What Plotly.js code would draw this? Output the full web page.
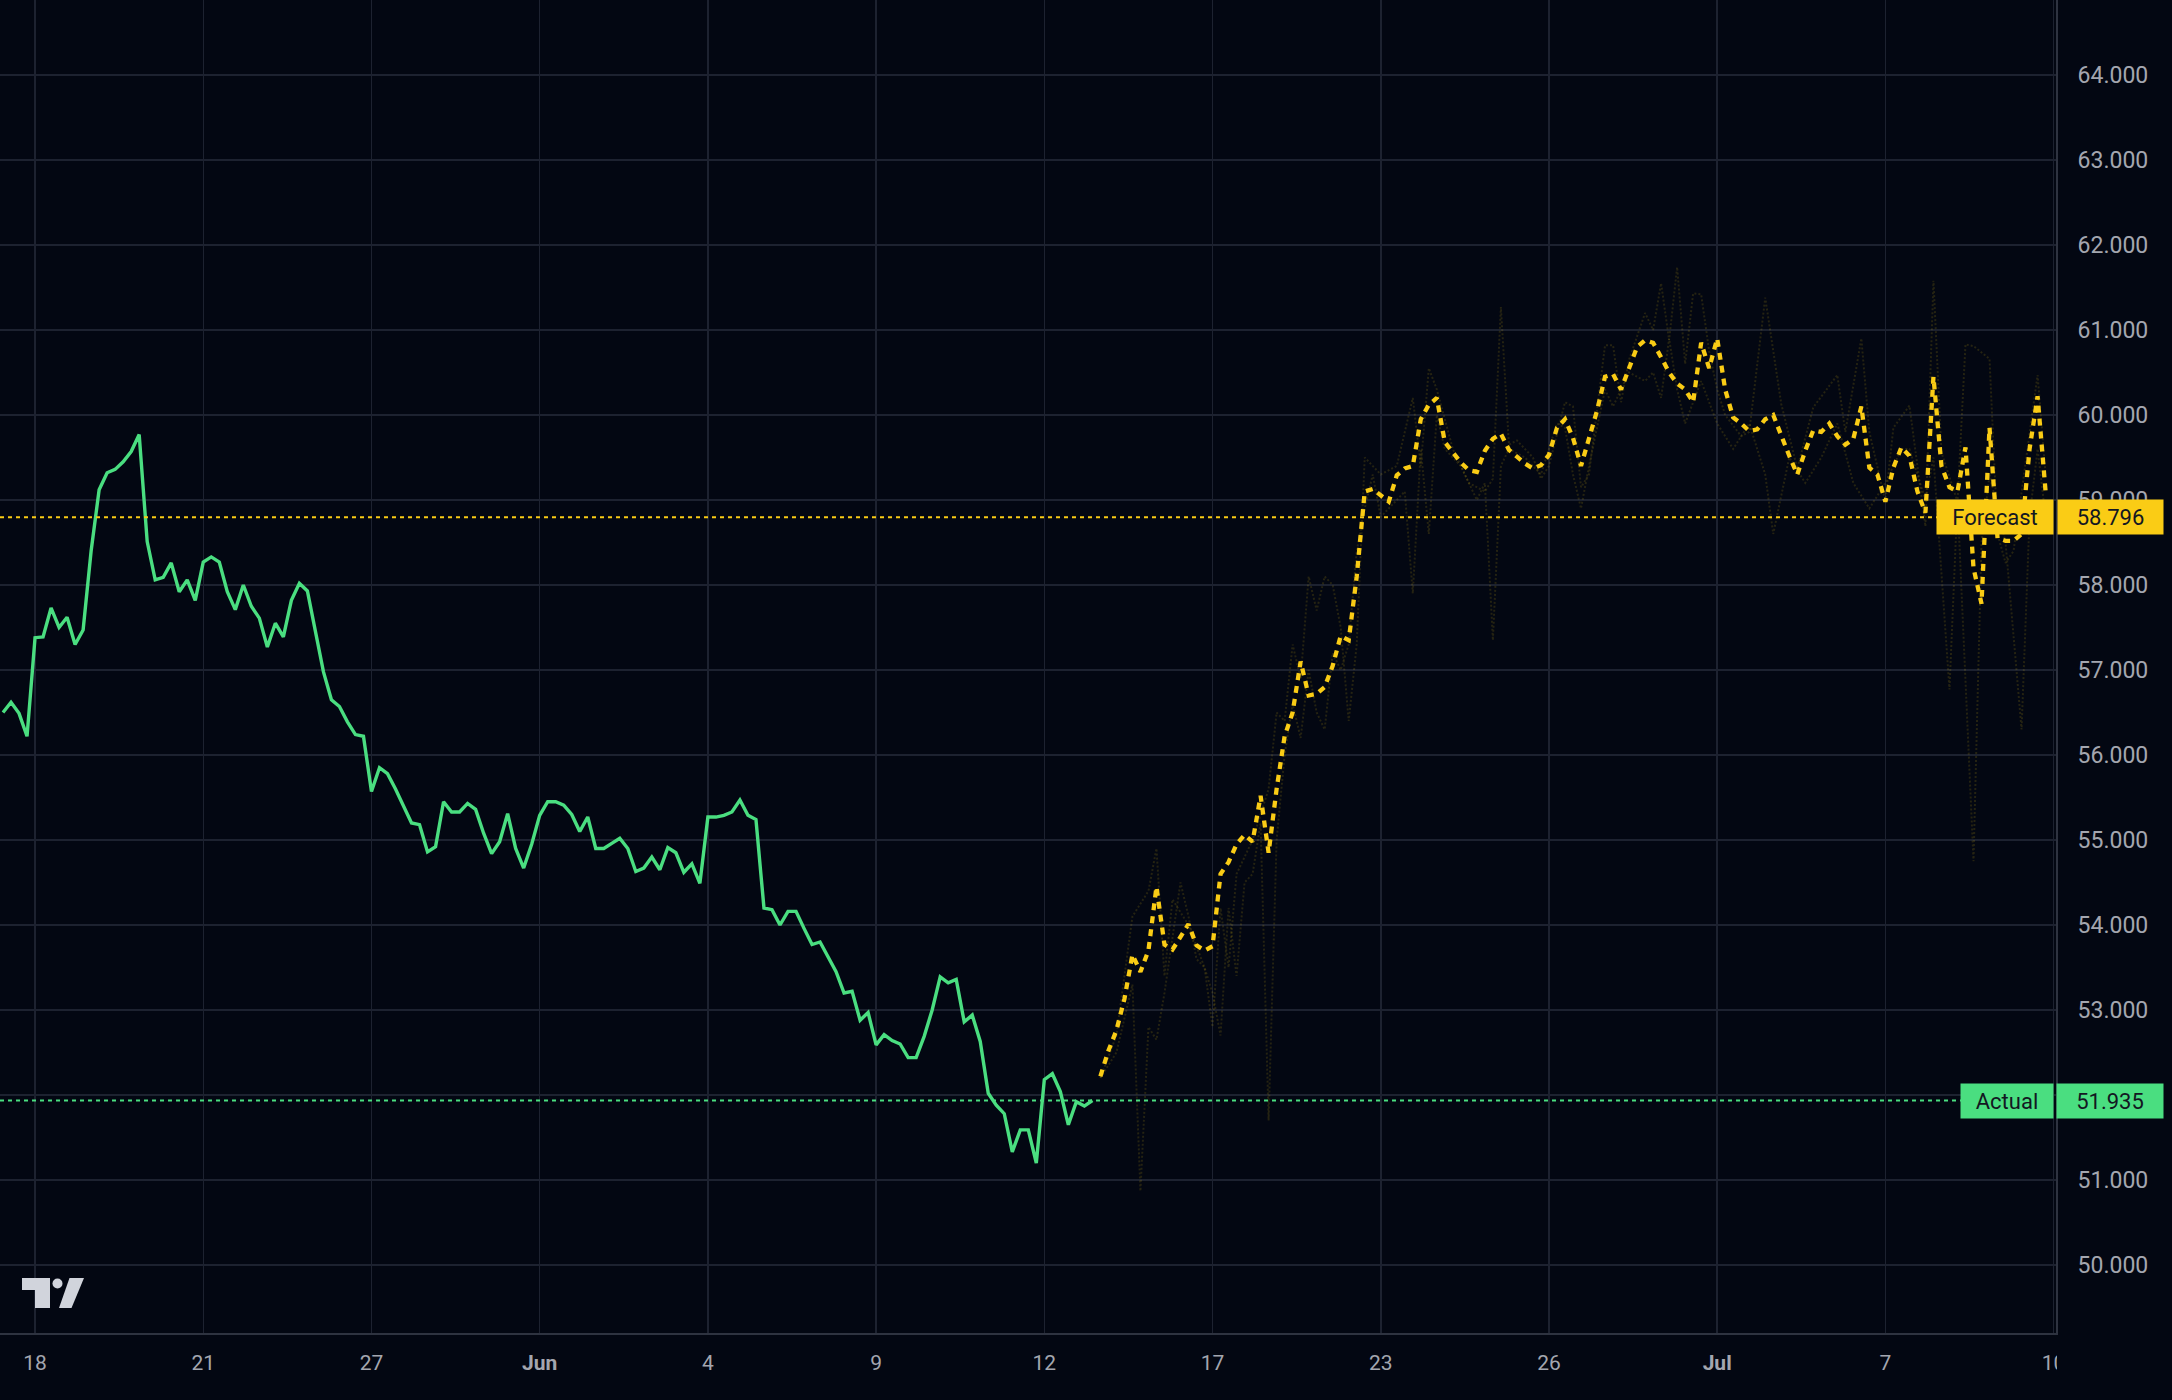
<!DOCTYPE html>
<html>
<head>
<meta charset="utf-8">
<script src="https://cdn.plot.ly/plotly-3.0.1.min.js"></script>
<style>
  html, body { margin: 0; padding: 0; background: #030712; }
  #chart { width: 2172px; height: 1400px; }
</style>
</head>
<body>
<div id="chart"></div>
<script>
// ---------- DATA ----------
// Bar index axis: one point per bar; ticks fall every 21 bars.
const tickLabels = ["18", "21", "27", "<b>Jun</b>", "4", "9", "12", "17", "23", "26", "<b>Jul</b>", "7", "10"];

// Actual price (green), bars 0..136
const actualValues = [
  56.50, 56.62, 56.49, 56.22, 57.38, 57.39, 57.73, 57.50, 57.62, 57.30,
  57.47, 58.40, 59.12, 59.32, 59.36, 59.45, 59.57, 59.77, 58.51, 58.06,
  58.09, 58.26, 57.92, 58.06, 57.82, 58.27, 58.33, 58.27, 57.92, 57.71,
  58.00, 57.75, 57.61, 57.27, 57.55, 57.39, 57.82, 58.02, 57.93, 57.43,
  56.98, 56.65, 56.57, 56.39, 56.24, 56.22, 55.57, 55.85, 55.78, 55.60,
  55.40, 55.20, 55.18, 54.86, 54.92, 55.45, 55.33, 55.33, 55.43, 55.36,
  55.08, 54.84, 54.98, 55.31, 54.90, 54.67, 54.95, 55.29, 55.45, 55.45,
  55.41, 55.30, 55.10, 55.27, 54.90, 54.90, 54.96, 55.02, 54.90, 54.63,
  54.67, 54.80, 54.65, 54.91, 54.85, 54.62, 54.72, 54.49, 55.27, 55.27,
  55.29, 55.33, 55.47, 55.29, 55.24, 54.20, 54.18, 54.00, 54.16, 54.16,
  53.96, 53.77, 53.80, 53.63, 53.45, 53.20, 53.22, 52.88, 52.97, 52.59,
  52.71, 52.64, 52.60, 52.44, 52.44, 52.69, 53.00, 53.39, 53.32, 53.36,
  52.86, 52.94, 52.63, 52.02, 51.88, 51.78, 51.33, 51.59, 51.59, 51.20,
  52.18, 52.25, 52.04, 51.65, 51.92, 51.87, 51.935
];

// Forecast (yellow dashed), bars 137..255
const forecastStart = 137;
const forecastValues = [
  52.22, 52.52, 52.76, 53.13, 53.65, 53.45, 53.70, 54.45, 53.77, 53.71,
  53.86, 54.01, 53.76, 53.70, 53.75, 54.60, 54.74, 54.95, 55.06, 54.98,
  55.52, 54.85, 55.60, 56.22, 56.50, 57.10, 56.70, 56.72, 56.80, 57.05,
  57.40, 57.35, 58.10, 59.10, 59.13, 59.05, 58.98, 59.29, 59.37, 59.40,
  59.95, 60.12, 60.20, 59.68, 59.55, 59.44, 59.35, 59.33, 59.58, 59.72,
  59.78, 59.59, 59.51, 59.43, 59.37, 59.41, 59.53, 59.85, 59.95, 59.73,
  59.40, 59.72, 60.05, 60.45, 60.48, 60.30, 60.55, 60.80, 60.88, 60.85,
  60.68, 60.50, 60.37, 60.30, 60.15, 60.85, 60.55, 60.90, 60.30, 59.97,
  59.90, 59.81, 59.83, 59.95, 60.00, 59.75, 59.52, 59.30, 59.58, 59.82,
  59.80, 59.90, 59.75, 59.65, 59.72, 60.10, 59.38, 59.30, 58.98, 59.38,
  59.62, 59.52, 59.10, 58.85, 60.45, 59.40, 59.15, 59.10, 59.62, 58.20,
  57.78, 59.85, 58.55, 58.52, 58.52, 58.60, 59.60, 60.22, 59.10
];

// Faint forecast sample paths (dim dotted)
const faintAIdx = [137,139,141,143,144,145,146,148,150,151,152,153,154,156,158,159,160,161,162,163,164,165,166,167,168,169,170,172,174,176,177,178,179,181,183,185,186,187,188,189,191,192,193,195,196,197,198,200,201,202,203,205,206,207,208,209,210,211,212,213,214,215,217,218,220,222,224,226,229,230,232,233,235,236,238,240,241,242,244,245,246,248,249,250,251,253,254,255];
const faintAValues = [52.2,52.7,54.1,54.4,54.9,53.4,54.3,54.0,53.5,52.8,54.2,53.5,54.6,55.0,55.6,56.5,56.4,57.3,56.9,58.1,57.7,58.1,58.0,57.5,56.4,57.3,59.5,59.3,59.4,60.2,59.4,60.55,60.3,59.6,59.2,59.1,59.25,61.27,59.65,59.7,59.5,59.25,59.4,60.15,60.1,59.15,59.3,60.82,60.82,60.15,60.65,61.2,61.0,61.55,60.88,61.74,60.6,61.43,61.42,60.75,60.3,60.0,59.75,59.8,61.38,60.13,59.37,60.09,60.47,59.8,60.9,59.8,58.98,59.85,60.11,58.69,61.58,59.56,58.98,60.83,60.81,60.66,58.6,58.26,58.4,59.8,60.47,59.3];
const faintBIdx = [137,139,141,142,143,144,145,147,148,149,150,151,152,153,154,155,156,157,158,159,160,161,162,163,164,165,166,167,168,169,170,171,172,175,176,177,178,179,180,182,184,185,186,187,188,190,192,194,195,196,197,198,200,201,203,205,206,207,208,209,210,212,214,216,218,220,221,223,225,227,229,231,233,235,237,238,240,241,243,244,246,247,248,249,250,252,253,254,255];
const faintBValues = [52.2,52.5,53.3,50.87,52.8,52.65,53.2,54.5,54.1,53.6,53.5,53.2,52.7,54.2,53.4,54.5,54.6,55.2,51.7,55.0,56.0,56.6,56.2,57.0,56.5,56.3,57.2,57.0,57.3,58.4,58.9,59.3,58.8,59.1,57.9,59.6,58.6,60.0,59.6,59.4,59.0,59.2,57.35,59.4,59.6,59.5,59.3,59.9,59.85,59.3,58.9,59.4,60.3,60.1,60.5,60.4,60.5,60.2,60.9,60.3,59.9,60.4,59.9,59.6,59.9,59.3,58.6,59.5,59.2,59.5,59.9,59.2,58.9,59.2,59.6,59.6,59.0,59.5,56.77,59.0,54.75,58.5,59.3,58.9,58.5,56.3,58.8,59.6,58.8];

const forecastLevel = 58.796;
const actualLevel = 51.935;
const forecastLabel = "Forecast";
const actualLabel = "Actual";

// ---------- STYLE ----------
const BG = "#030712";
const GRID = "#1d2230";
const AXIS = "#2e3340";
const GREEN = "#4ade80";
const YELLOW = "#facc15";
const FAINT = "rgba(250,204,21,0.14)";
const TXT = "#a3a6af";
const FONT = "Roboto, 'Noto Sans', sans-serif";

const W = 2172, H = 1400, ML = 0, MR = 116, MT = 0, MB = 67;
const PW = W - ML - MR, PH = H - MT - MB;

const actualIdx = actualValues.map((_, i) => i);
const forecastIdx = forecastValues.map((_, i) => forecastStart + i);
const tickIdx = tickLabels.map((_, k) => 4 + 21 * k);

const traces = [
  { x: faintAIdx, y: faintAValues, type: "scatter", mode: "lines",
    line: { color: FAINT, width: 2, dash: "2px,2px" }, hoverinfo: "skip" },
  { x: faintBIdx, y: faintBValues, type: "scatter", mode: "lines",
    line: { color: FAINT, width: 2, dash: "2px,2px" }, hoverinfo: "skip" },
  { x: actualIdx, y: actualValues, type: "scatter", mode: "lines",
    line: { color: GREEN, width: 3.4 }, name: actualLabel },
  { x: forecastIdx, y: forecastValues, type: "scatter", mode: "lines",
    line: { color: YELLOW, width: 4.3, dash: "7px,6px" }, name: forecastLabel }
];

// pixel -> paper helpers for the logo
const px = v => (v - ML) / PW;
const py = v => (MT + PH - v) / PH;
function poly(pts) {
  return pts.map((p, i) => (i ? "L" : "M") + px(p[0]) + "," + py(p[1])).join(" ") + " Z";
}

const shapes = [
  { type: "line", xref: "paper", x0: 0, x1: 1, yref: "y", y0: forecastLevel, y1: forecastLevel,
    line: { color: YELLOW, width: 2, dash: "4px,4px" }, layer: "above" },
  { type: "line", xref: "paper", x0: 0, x1: 1, yref: "y", y0: actualLevel, y1: actualLevel,
    line: { color: GREEN, width: 2, dash: "4px,4px" }, layer: "above" },
  // TradingView-like logo
  { type: "path", xref: "paper", yref: "paper", layer: "above",
    path: poly([[22,1278],[50,1278],[50,1308],[35,1308],[35,1290],[22,1290]]),
    fillcolor: "#d1d4dc", line: { width: 0 } },
  { type: "circle", xref: "paper", yref: "paper", layer: "above",
    x0: px(52.5), x1: px(62.5), y0: py(1288.5), y1: py(1278.5),
    fillcolor: "#d1d4dc", line: { width: 0 } },
  { type: "path", xref: "paper", yref: "paper", layer: "above",
    path: poly([[59,1308],[71.5,1308],[84,1278],[69.5,1278]]),
    fillcolor: "#d1d4dc", line: { width: 0 } },
  // clip of the last time label at the price-scale border
  { type: "rect", xref: "paper", yref: "paper", layer: "above",
    x0: px(2057), x1: px(2100), y0: py(1398), y1: py(1335),
    fillcolor: BG, line: { width: 0 } }
];

const tagFont = { family: FONT, size: 22, color: "#131722" };
const annotations = [
  { xref: "paper", x: 1, xanchor: "right", xshift: -2, yref: "y", y: forecastLevel, yanchor: "middle",
    text: forecastLabel, showarrow: false, font: tagFont, bgcolor: YELLOW,
    width: 112, height: 30, borderpad: 2, align: "center" },
  { xref: "paper", x: 1, xanchor: "left", xshift: 1, yref: "y", y: forecastLevel, yanchor: "middle",
    text: forecastLevel.toFixed(3), showarrow: false, font: tagFont, bgcolor: YELLOW,
    width: 101, height: 30, borderpad: 2, align: "center" },
  { xref: "paper", x: 1, xanchor: "right", xshift: -2, yref: "y", y: actualLevel, yanchor: "middle",
    text: actualLabel, showarrow: false, font: tagFont, bgcolor: GREEN,
    width: 88, height: 30, borderpad: 2, align: "center" },
  { xref: "paper", x: 1, xanchor: "left", xshift: 0, yref: "y", y: actualLevel, yanchor: "middle",
    text: actualLevel.toFixed(3), showarrow: false, font: tagFont, bgcolor: GREEN,
    width: 102, height: 30, borderpad: 2, align: "center" }
];

const layout = {
  width: W, height: H,
  margin: { l: ML, r: MR, t: MT, b: MB, pad: 0 },
  paper_bgcolor: BG, plot_bgcolor: BG,
  showlegend: false,
  font: { family: FONT, color: TXT, size: 22 },
  xaxis: {
    range: [-0.375, 256.3], tickmode: "array", tickvals: tickIdx, ticktext: tickLabels,
    showgrid: true, gridcolor: GRID, gridwidth: 1.5, zeroline: false,
    showline: true, linecolor: AXIS, linewidth: 2, ticks: "",
    ticklabelstandoff: 10, tickfont: { family: FONT, size: 21, color: TXT }, fixedrange: true
  },
  yaxis: {
    side: "right", range: [49.2, 64.882], dtick: 1, tick0: 50, tickformat: ".3f",
    showgrid: true, gridcolor: GRID, gridwidth: 1.5, zeroline: false,
    showline: true, linecolor: AXIS, linewidth: 2, ticks: "",
    ticklabelstandoff: 15, tickfont: { family: FONT, size: 23, color: TXT }, fixedrange: true
  },
  shapes: shapes,
  annotations: annotations
};

Plotly.newPlot("chart", traces, layout, { displayModeBar: false, staticPlot: true });
</script>
</body>
</html>
